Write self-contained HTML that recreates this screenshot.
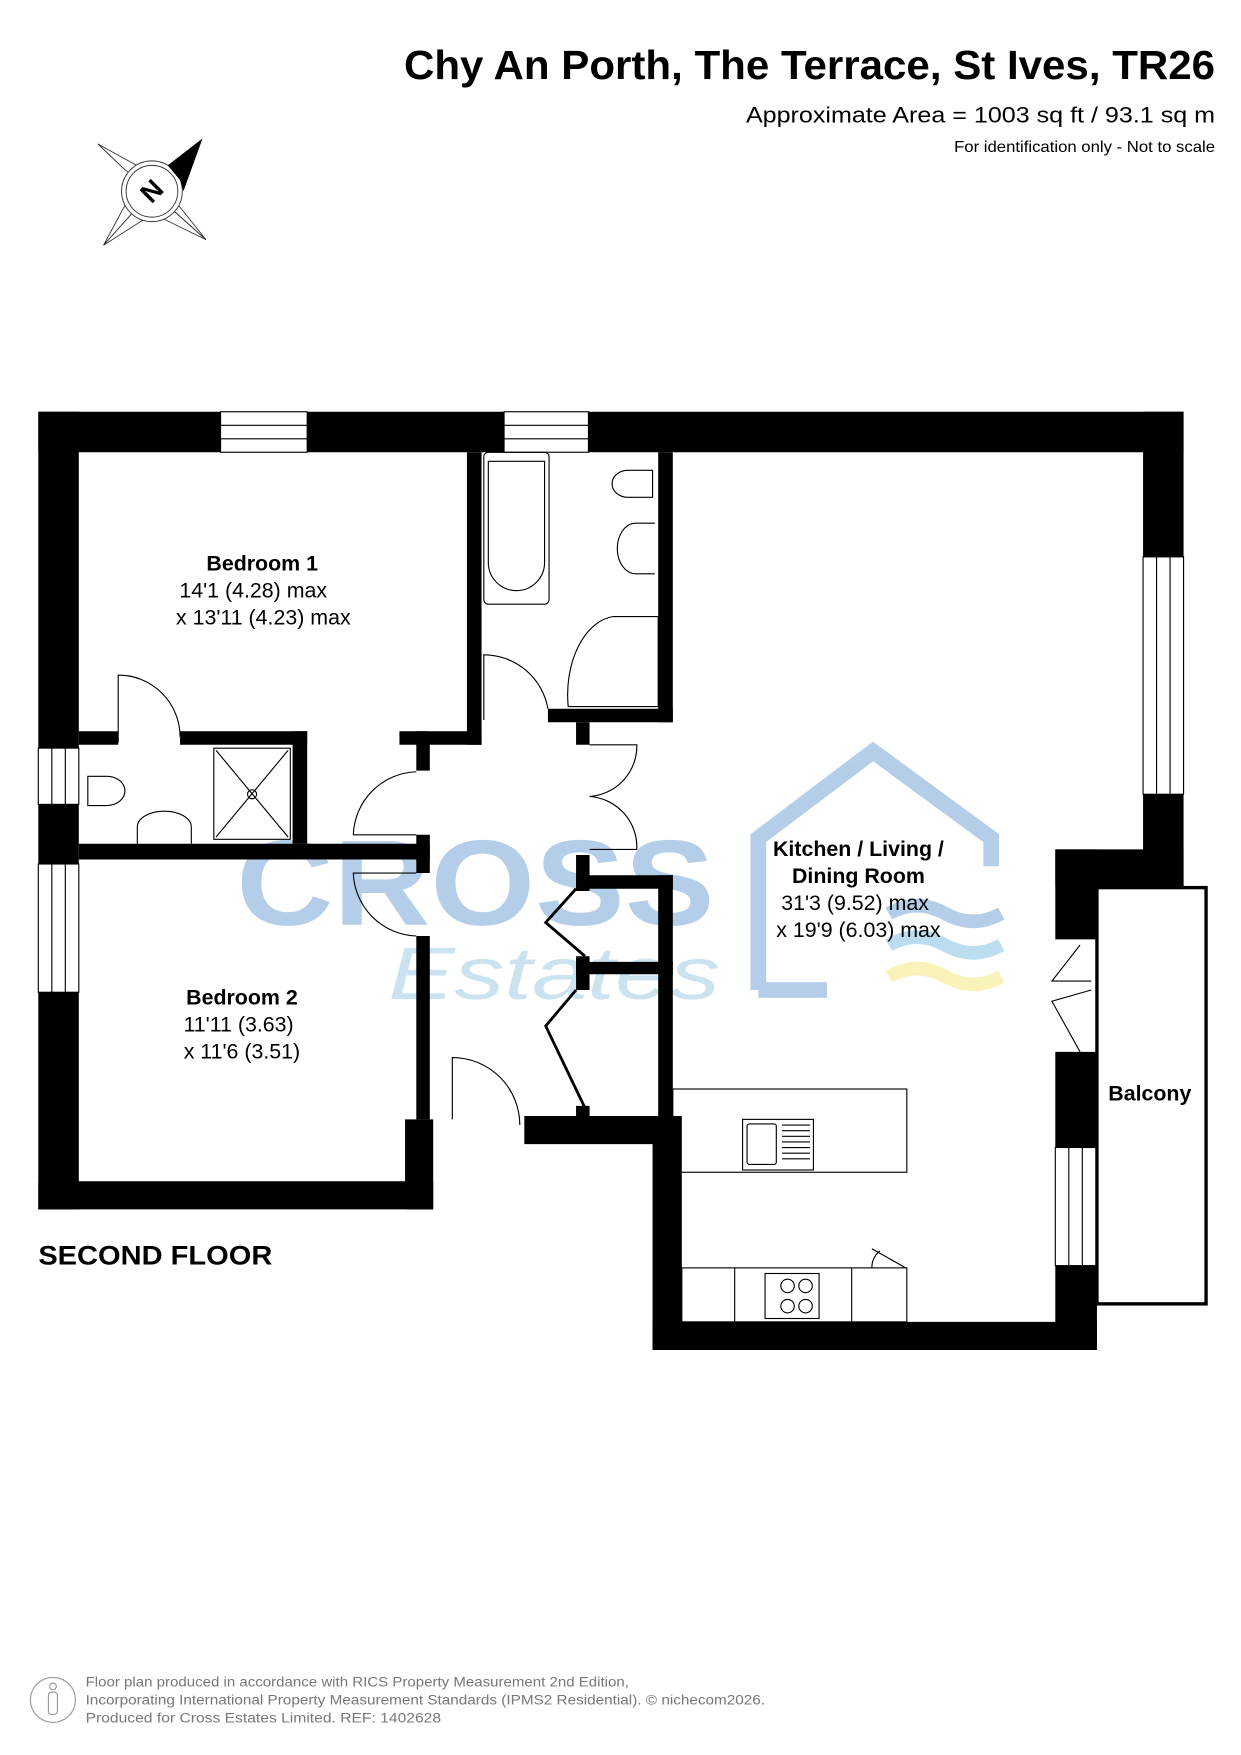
<!DOCTYPE html>
<html><head><meta charset="utf-8"><style>
html,body{margin:0;padding:0;background:#fff}
svg{display:block}
text{font-family:"Liberation Sans",Arial,sans-serif}
</style></head><body>
<svg width="1241" height="1755" viewBox="0 0 1103 1560" xmlns="http://www.w3.org/2000/svg">
<rect width="1103" height="1560" fill="#fff"/>
<!-- header -->
<text x="359" y="70" font-size="36" font-weight="bold" textLength="721" lengthAdjust="spacingAndGlyphs">Chy An Porth, The Terrace, St Ives, TR26</text>
<text x="663" y="109" font-size="20" textLength="417" lengthAdjust="spacingAndGlyphs">Approximate Area = 1003 sq ft / 93.1 sq m</text>
<text x="848" y="135" font-size="14" textLength="232" lengthAdjust="spacingAndGlyphs">For identification only - Not to scale</text>
<!-- compass -->
<g stroke="#333" stroke-width="0.8" fill="#fff">
<polygon points="87,128 125,158 145,160 135,170"/>
<polygon points="87,128 145,160 135,170 110,150"/>
<polygon points="92,218 115,175 135,170"/>
<polygon points="92,218 128,195 135,170"/>
<polygon points="183,213 140,192 135,170"/>
<polygon points="183,213 155,178 135,170"/>
<circle cx="135" cy="170" r="27"/>
<circle cx="135" cy="170" r="23"/>
</g>
<polygon points="180,123 149,147 160,160 163,170" fill="#000"/>
<text x="135" y="178" text-anchor="middle" font-size="24" font-weight="bold" transform="rotate(-45 135 170)">N</text>
<!-- watermark -->
<g opacity="0.45">
<text x="210" y="822" font-size="108" font-weight="bold" fill="#5b93cf" textLength="425" lengthAdjust="spacingAndGlyphs">CROSS</text>
<text x="345" y="888" font-size="66" font-style="italic" fill="#8ec0e0" font-family="Liberation Serif,serif" textLength="295" lengthAdjust="spacingAndGlyphs">Estates</text>
<path d="M674,880 V745 L776,668 L881,745 V770 M674,880 H735" fill="none" stroke="#5b93cf" stroke-width="14"/>
<path d="M790,812 q25,-14 50,0 t50,0" fill="none" stroke="#5b93cf" stroke-width="12"/>
<path d="M790,840 q25,-14 50,0 t50,0" fill="none" stroke="#6cb6e0" stroke-width="12"/>
<path d="M790,868 q25,-14 50,0 t50,0" fill="none" stroke="#f2e36a" stroke-width="12"/>
</g>
<!-- walls -->
<g fill="#000">
<rect x="34" y="366" width="1018" height="36"/>
<rect x="34" y="366" width="36" height="709"/>
<rect x="1016" y="366" width="36" height="422"/>
<rect x="938" y="755" width="114" height="33"/>
<rect x="938" y="755" width="37" height="80"/>
<rect x="938" y="935" width="37" height="85"/>
<rect x="938" y="1125" width="37" height="75"/>
<rect x="580" y="1175" width="395" height="25"/>
<rect x="580" y="992" width="26" height="208"/>
<rect x="415" y="402" width="13" height="260"/>
<rect x="585" y="402" width="13" height="240"/>
<rect x="487" y="630" width="111" height="12"/>
<rect x="355" y="650" width="73" height="12"/>
<rect x="370" y="650" width="12" height="35"/>
<rect x="512" y="642" width="12" height="20"/>
<rect x="70" y="650" width="35" height="12"/>
<rect x="160" y="650" width="113" height="12"/>
<rect x="260" y="650" width="13" height="100"/>
<rect x="70" y="750" width="312" height="14"/>
<rect x="370" y="742" width="12" height="34"/>
<rect x="370" y="832" width="12" height="163"/>
<rect x="360" y="995" width="25" height="80"/>
<rect x="34" y="1050" width="351" height="25"/>
<rect x="466" y="992" width="132" height="25"/>
<rect x="585" y="778" width="13" height="214"/>
<rect x="512" y="778" width="86" height="12"/>
<rect x="512" y="855" width="86" height="11"/>
<rect x="512" y="760" width="12" height="32"/>
<rect x="512" y="850" width="12" height="30"/>
<rect x="512" y="983" width="12" height="12"/>
</g>
<!-- windows -->
<g fill="#fff" stroke="#000" stroke-width="1">
<rect x="196" y="366" width="77" height="36"/><line x1="196" y1="378" x2="273" y2="378"/><line x1="196" y1="390" x2="273" y2="390"/>
<rect x="448" y="366" width="75" height="36"/><line x1="448" y1="378" x2="523" y2="378"/><line x1="448" y1="390" x2="523" y2="390"/>
<rect x="1016" y="495" width="36" height="211"/><line x1="1028" y1="495" x2="1028" y2="706"/><line x1="1040" y1="495" x2="1040" y2="706"/>
<rect x="34" y="665" width="36" height="50"/><line x1="46" y1="665" x2="46" y2="715"/><line x1="58" y1="665" x2="58" y2="715"/>
<rect x="34" y="768" width="36" height="114"/><line x1="46" y1="768" x2="46" y2="882"/><line x1="58" y1="768" x2="58" y2="882"/>
<rect x="938" y="1020" width="37" height="105"/><line x1="950" y1="1020" x2="950" y2="1125"/><line x1="962" y1="1020" x2="962" y2="1125"/>
</g>
<!-- balcony -->
<rect x="975" y="789" width="97" height="370" fill="none" stroke="#000" stroke-width="3"/>
<!-- doors -->
<g fill="none" stroke="#000" stroke-width="1">
<path d="M105,660 V600 A55,55 0 0 1 160,655"/>
<path d="M430,640 V582 A58,58 0 0 1 487,630"/>
<path d="M370,686 A58,58 0 0 0 314,742 H370"/>
<path d="M370,776 H314 A58,58 0 0 0 370,832"/>
<path d="M524,662 H566 A45,45 0 0 1 524,708 A45,45 0 0 1 566,755 H524"/>
<path d="M402,995 V940 A60,60 0 0 1 462,1000"/>
<path d="M512,790 L485,820 L520,850" stroke-width="2.5"/>
<path d="M512,880 L485,912 L520,985" stroke-width="2.5"/>
<path d="M960,840 L935,872 L970,872 M960,935 L935,890 L970,880" />
<path d="M775,1110 L805,1127 M775,1127 A18,18 0 0 1 782,1112"/>
</g>
<!-- fixtures -->
<g fill="none" stroke="#000" stroke-width="1">
<rect x="430" y="402" width="58" height="135" rx="4"/>
<path d="M434,410 H484 V500 A25,25 0 0 1 434,500 Z"/>
<path d="M580,418 H558 A14,12 0 0 0 558,442 H580 Z"/>
<path d="M582,465 H565 A16,22 0 0 0 565,510 H582"/>
<path d="M585,548 H545 A45,70 0 0 0 505,628 H585 Z"/>
<path d="M190,665 H258 V746 H190 Z M192,667 L256,744 M256,667 L192,744"/>
<circle cx="224" cy="706" r="4"/>
<path d="M78,690 H95 A16,13 0 0 1 95,716 H78 Z"/>
<path d="M122,750 V735 A24,14 0 0 1 170,735 V750"/>
<rect x="598" y="968" width="208" height="74"/>
<rect x="660" y="995" width="63" height="45"/>
<rect x="664" y="999" width="26" height="36" rx="2"/>
<rect x="606" y="1127" width="200" height="48"/><line x1="653" y1="1127" x2="653" y2="1175"/><line x1="757" y1="1127" x2="757" y2="1175"/>
<rect x="680" y="1132" width="48" height="40"/>
<circle cx="700" cy="1143" r="6"/><circle cx="716" cy="1143" r="6"/><circle cx="700" cy="1161" r="6"/><circle cx="716" cy="1161" r="6"/>
</g>
<g stroke="#000" stroke-width="1"><line x1="695" y1="1000" x2="720" y2="1000"/><line x1="695" y1="1005" x2="720" y2="1005"/><line x1="695" y1="1010" x2="720" y2="1010"/><line x1="695" y1="1015" x2="720" y2="1015"/><line x1="695" y1="1020" x2="720" y2="1020"/><line x1="695" y1="1025" x2="720" y2="1025"/><line x1="695" y1="1030" x2="720" y2="1030"/></g>
<!-- labels -->
<g font-size="19" text-anchor="middle">
<text x="233" y="507" font-weight="bold">Bedroom 1</text>
<text x="225" y="531">14'1 (4.28) max</text>
<text x="234" y="555">x 13'11 (4.23) max</text>
<text x="215" y="893" font-weight="bold">Bedroom 2</text>
<text x="212" y="917">11'11 (3.63)</text>
<text x="215" y="941">x 11'6 (3.51)</text>
<text x="763" y="761" font-weight="bold">Kitchen / Living /</text>
<text x="763" y="785" font-weight="bold">Dining Room</text>
<text x="760" y="809">31'3 (9.52) max</text>
<text x="763" y="833">x 19'9 (6.03) max</text>
<text x="1022" y="978" font-weight="bold">Balcony</text>
</g>
<text x="34" y="1124" font-size="24" font-weight="bold" textLength="208" lengthAdjust="spacingAndGlyphs">SECOND FLOOR</text>
<!-- footer -->
<circle cx="47" cy="1511" r="20" fill="none" stroke="#999" stroke-width="1"/>
<circle cx="47" cy="1499" r="3" fill="none" stroke="#999"/>
<rect x="43" y="1504" width="8" height="20" rx="3" fill="none" stroke="#999"/>
<g font-size="12" fill="#777">
<text x="76" y="1499" textLength="483" lengthAdjust="spacingAndGlyphs">Floor plan produced in accordance with RICS Property Measurement 2nd Edition,</text>
<text x="76" y="1515" textLength="604" lengthAdjust="spacingAndGlyphs">Incorporating International Property Measurement Standards (IPMS2 Residential).   © nichecom2026.</text>
<text x="76" y="1531" textLength="316" lengthAdjust="spacingAndGlyphs">Produced for Cross Estates Limited.   REF:  1402628</text>
</g>
</svg>
</body></html>
